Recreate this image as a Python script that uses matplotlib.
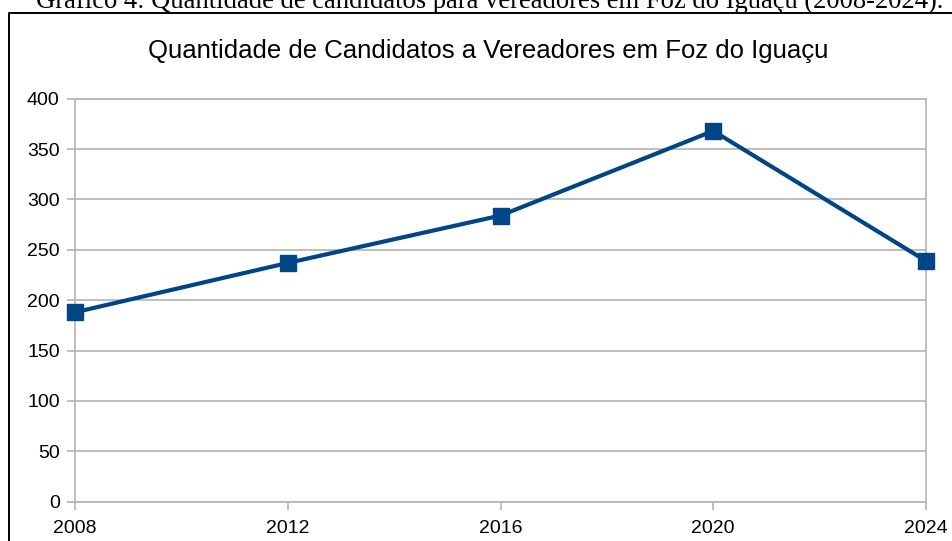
import matplotlib
matplotlib.use("Agg")
import matplotlib.pyplot as plt
from matplotlib.lines import Line2D

# dados do grafico
anos = [2008, 2012, 2016, 2020, 2024]
candidatos = [188, 237, 284, 368, 239]
yticks = [0, 50, 100, 150, 200, 250, 300, 350, 400]

titulo = "Quantidade de Candidatos a Vereadores em Foz do Iguaçu"
legenda_fig = "Gráfico 4: Quantidade de candidatos para vereadores em Foz do Iguaçu (2008-2024)."

W, H = 952, 541
fig = plt.figure(figsize=(W / 100, H / 100), dpi=100)

# caixa preta em volta do grafico (cortada a direita e embaixo)
fig.add_artist(Line2D([8.5 / W, 8.5 / W, 1.0], [0.0, 1 - 12.5 / H, 1 - 12.5 / H],
                      transform=fig.transFigure, color="black", lw=1.4))

# legenda da figura (cortada no topo)
fig.text(490 / W, 1 - 7.5 / H, legenda_fig, ha="center", va="baseline",
         fontfamily="Liberation Serif", fontsize=19.2, color="black")

ax = fig.add_axes([75 / W, 1 - 501.7 / H, (926 - 75) / W, (501.7 - 98.7) / H])
ax.plot(anos, candidatos, color="#004586", lw=3.0, marker="s", ms=11,
        solid_joinstyle="miter", zorder=3, clip_on=False)

ax.set_xlim(2008, 2024)
ax.set_ylim(0, 400)
ax.set_xticks(anos)
ax.set_yticks(yticks)
ax.grid(axis="y", color="#b3b3b3", lw=1.2)
for s in ax.spines.values():
    s.set_color("#b3b3b3")
    s.set_linewidth(1.2)
ax.tick_params(axis="both", colors="#b3b3b3", length=6, width=1.2,
               labelcolor="black", labelsize=14)
ax.tick_params(axis="y", pad=5)
ax.tick_params(axis="x", pad=7)
for lab in ax.get_xticklabels() + ax.get_yticklabels():
    lab.set_fontfamily("Liberation Sans")

fig.text(488 / W, 1 - 58 / H, titulo, ha="center", va="baseline",
         fontfamily="Liberation Sans", fontsize=18.5, color="black")

fig.savefig("out.png", dpi=100)
